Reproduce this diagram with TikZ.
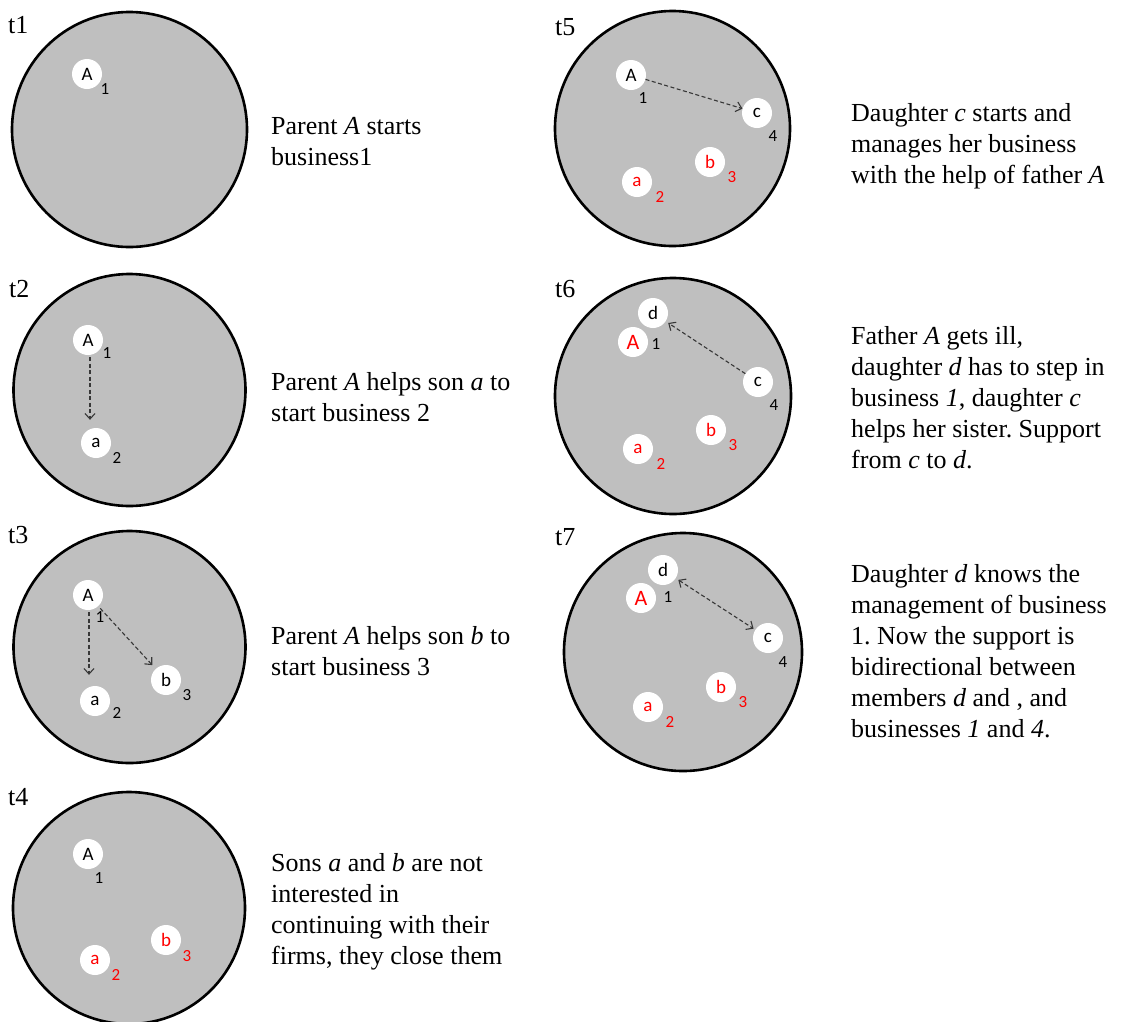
\documentclass[tikz,border=0pt]{standalone}
\usepackage{fontspec}
\setmainfont{Liberation Serif}
\newfontfamily\calfont{Carlito}
\usepackage{xcolor}
\usepackage{tikz}
\usetikzlibrary{arrows.meta,positioning}
\tikzset{>={Straight Barb[length=5.5pt,width=10pt]}}
\definecolor{panelgray}{RGB}{191,191,191}
\definecolor{linkgray}{RGB}{55,55,55}
\frenchspacing

\begin{document}
\begin{tikzpicture}[x=1pt, y=-1pt,
                    panel/.style={line width=2.6pt, draw=black, fill=panelgray},
                    member/.style={circle, fill=white, minimum size=30pt, inner sep=0pt,
                                   font=\calfont\fontsize{19}{19}\selectfont},
                    bignum/.style={inner sep=0pt, font=\calfont\fontsize{17}{17}\selectfont},
                    stage/.style={anchor=base west, inner sep=0pt, font=\fontsize{26}{26}\selectfont},
                    caption/.style={anchor=base west, inner sep=0pt, align=left,
                                    font=\fontsize{26}{31}\selectfont},
                    link/.style={linkgray, line width=1.1pt, dash pattern=on 4pt off 2.5pt},
                   ]

\useasboundingbox (0,0) rectangle (1123,1021);

%% left column (captions sit on their last line)
% t1
\node[stage] (st1) at (8,33) {t1};
\draw[panel] (129.5,129.5) circle (117.5pt);
\node[member] (t1A) at (87,74) {A};
\node[bignum] (t1n1) at (105,89) {1};
\node[caption] (cap1) at (271,165) {Parent \textit{A} starts\\business1};

% t2
\node[stage] (st2) at (9,297) {t2};
\draw[panel] (129.5,390) circle (116pt);
\node[member] (t2A) at (88,340) {A};
\node[bignum] (t2n1) at (107,353) {1};
\node[member] (t2a) at (96,443) {a};
\node[bignum] (t2n2) at (117,458) {2};
\draw[link,->] ([xshift=2pt,yshift=-2pt]t2A.south) -- ([xshift=-6pt,yshift=8pt]t2a.north);
\node[caption] (cap2) at (271,421) {Parent \textit{A} helps son \textit{a} to\\start business 2};

% t3
\node[stage] (st3) at (8,543) {t3};
\draw[panel] (129.5,647) circle (116pt);
\node[member] (t3A) at (88,595) {A};
\node[bignum] (t3n1) at (100,617) {1};
\node[member] (t3a) at (95,701) {a};
\node[bignum] (t3n2) at (117,713) {2};
\node[member] (t3b) at (166,680) {b};
\node[bignum] (t3n3) at (187,695) {3};
\draw[link,->] ([xshift=1pt,yshift=-2pt]t3A.south) -- ([xshift=-6pt,yshift=11pt]t3a.north);
\draw[link,->, shorten <=3pt, shorten >=5pt] (t3A) -- (t3b);
\node[caption] (cap3) at (271,675) {Parent \textit{A} helps son \textit{b} to\\start business 3};

% t4
\node[stage] (st4) at (8,805) {t4};
\draw[panel] (129,908) circle (116pt);
\node[member] (t4A) at (88,854) {A};
\node[bignum] (t4n1) at (99,878) {1};
\node[member, text=red] (t4a) at (95,960) {a};
\node[bignum, text=red] (t4n2) at (116,975) {2};
\node[member, text=red] (t4b) at (166,940) {b};
\node[bignum, text=red] (t4n3) at (187,956) {3};
\node[caption] (cap4) at (271,964) {Sons \textit{a} and \textit{b} are not\\interested in\\continuing with their\\firms, they close them};

%% right column
% t5
\node[stage] (st5) at (555,35) {t5};
\draw[panel] (672.5,128.5) circle (117.5pt);
\node[member] (t5A) at (631,75) {A};
\node[bignum] (t5n1) at (643,98) {1};
\node[member] (t5c) at (757,113) {c};
\node[bignum] (t5n4) at (773,136) {4};
\node[member, text=red] (t5b) at (710,162) {b};
\node[bignum, text=red] (t5n3) at (732,177) {3};
\node[member, text=red] (t5a) at (637,182) {a};
\node[bignum, text=red] (t5n2) at (660,197) {2};
\draw[link,->] (t5A) -- (t5c);
\node[caption] (cap5) at (851,183) {Daughter \textit{c} starts and\\manages her business\\with the help of father \textit{A}};

% t6
\node[stage] (st6) at (555,297) {t6};
\draw[panel] (673,396) circle (118pt);
\node[member] (t6d) at (653,313) {d};
\node[member, text=red, font=\calfont\fontsize{22}{22}\selectfont] (t6A) at (633,342) {A};
\node[bignum] (t6n1) at (656,344) {1};
\node[member] (t6c) at (758,382) {c};
\node[bignum] (t6n4) at (774,405) {4};
\node[member, text=red] (t6b) at (711,430) {b};
\node[bignum, text=red] (t6n3) at (733,445) {3};
\node[member, text=red] (t6a) at (638,449) {a};
\node[bignum, text=red] (t6n2) at (661,464) {2};
\draw[link,->, shorten >=3pt] (t6c) -- (t6d);
\node[caption] (cap6) at (851,468) {Father \textit{A} gets ill,\\daughter \textit{d} has to step in\\business \textit{1}, daughter \textit{c}\\helps her sister. Support\\from \textit{c} to \textit{d}.};

% t7
\node[stage] (st7) at (555,545) {t7};
\draw[panel] (683,652) circle (119pt);
\node[member] (t7d) at (663,570) {d};
\node[member, text=red, font=\calfont\fontsize{22}{22}\selectfont] (t7A) at (641,598) {A};
\node[bignum] (t7n1) at (668,597) {1};
\node[member] (t7c) at (768,638) {c};
\node[bignum] (t7n4) at (783,662) {4};
\node[member, text=red] (t7b) at (721,687) {b};
\node[bignum, text=red] (t7n3) at (743,702) {3};
\node[member, text=red] (t7a) at (648,707) {a};
\node[bignum, text=red] (t7n2) at (670,722) {2};
\draw[link,<->, shorten <=3pt, shorten >=2pt] (t7d) -- (t7c);
\node[caption] (cap7) at (851,737) {Daughter \textit{d} knows the\\management of business\\1. Now the support is\\bidirectional between\\members \textit{d} and , and\\businesses \textit{1} and \textit{4}.};

\end{tikzpicture}
\end{document}
